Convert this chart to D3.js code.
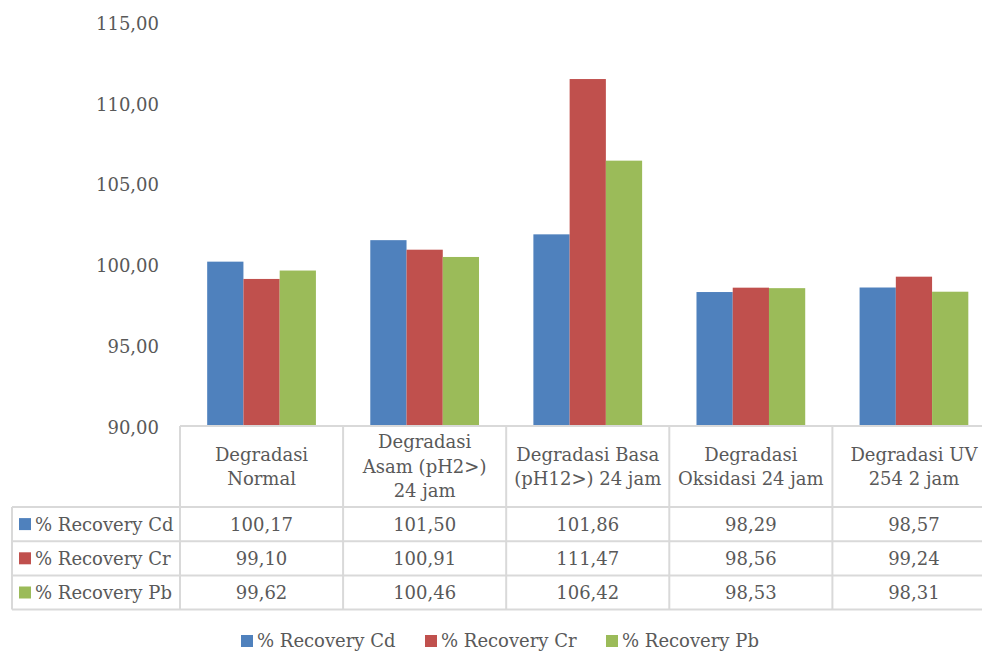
<!DOCTYPE html>
<html>
<head>
<meta charset="utf-8">
<script src="https://cdn.jsdelivr.net/npm/d3@7"></script>
<style>
  html, body { margin: 0; padding: 0; background: #fff; overflow: hidden; }
  svg { display: block; font-family: "DejaVu Serif", "Liberation Serif", serif; }
</style>
</head>
<body>
<svg id="chart" width="982" height="653"></svg>
<script>
// Categories (header lines of the data table)
const categories = [
  ["Degradasi", "Normal"],
  ["Degradasi", "Asam (pH2>)", "24 jam"],
  ["Degradasi Basa", "(pH12>) 24 jam"],
  ["Degradasi", "Oksidasi 24 jam"],
  ["Degradasi UV", "254 2 jam"]
];
const seriesNames = ["% Recovery Cd", "% Recovery Cr", "% Recovery Pb"];
const seriesColors = ["#4F81BD", "#C0504D", "#9BBB59"];
const recoveryCd = [100.17, 101.50, 101.86, 98.29, 98.57];
const recoveryCr = [99.10, 100.91, 111.47, 98.56, 99.24];
const recoveryPb = [99.62, 100.46, 106.42, 98.53, 98.31];
const yTicks = [90, 95, 100, 105, 110, 115];

const series = [recoveryCd, recoveryCr, recoveryPb];

const locale = d3.formatLocale({ decimal: ",", thousands: ".", grouping: [3], currency: ["", ""] });
const fmt = locale.format(".2f");

const svg = d3.select("#chart");
const textColor = "#595959";
const gridColor = "#d9d9d9";

// Layout
const plotLeft = 180, plotTop = 22, plotBottom = 426;
const colW = 163.1;
const tableLeft = 12;
const headerBottom = 507;
const rowH = 34.2;

const x = d3.scaleBand()
  .domain(d3.range(categories.length))
  .range([plotLeft, plotLeft + colW * categories.length])
  .paddingInner(0).paddingOuter(0);

// Excel-like gap width of 150%
const barW = x.bandwidth() / 4.5;
const xInner = d3.scaleBand()
  .domain(d3.range(series.length))
  .range([(x.bandwidth() - barW * 3) / 2, (x.bandwidth() + barW * 3) / 2]);

const y = d3.scaleLinear().domain([90, 115]).range([plotBottom, plotTop]);

// Y tick labels
const yAxis = d3.axisLeft(y).tickValues(yTicks).tickFormat(fmt).tickSize(0).tickPadding(0);
const gy = svg.append("g").attr("transform", `translate(159,0)`).call(yAxis);
gy.select(".domain").remove();
gy.selectAll("text")
  .attr("fill", textColor)
  .attr("font-size", 18)
  .attr("font-family", "DejaVu Serif, serif")
  .attr("dy", "0.4em");

// Bars
const groups = svg.append("g").selectAll("g")
  .data(categories.map((c, i) => i))
  .join("g")
  .attr("transform", i => `translate(${x(i)},0)`);

groups.selectAll("rect")
  .data(i => series.map((s, k) => ({ k, v: s[i] })))
  .join("rect")
  .attr("x", d => xInner(d.k))
  .attr("width", xInner.bandwidth())
  .attr("y", d => y(d.v))
  .attr("height", d => y(90) - y(d.v))
  .attr("fill", d => seriesColors[d.k]);

// Data table grid
const grid = svg.append("g").attr("stroke", gridColor).attr("stroke-width", 2).attr("fill", "none");
const tableRight = x.range()[1];
const tableBottom = headerBottom + rowH * series.length;

// top of header
grid.append("line").attr("x1", plotLeft).attr("x2", tableRight).attr("y1", plotBottom).attr("y2", plotBottom);
// horizontal row lines
for (let r = 0; r <= series.length; r++) {
  const yy = headerBottom + r * rowH;
  grid.append("line").attr("x1", tableLeft).attr("x2", tableRight).attr("y1", yy).attr("y2", yy);
}
// vertical lines for category columns
for (let i = 0; i <= categories.length; i++) {
  const xx = plotLeft + i * colW;
  grid.append("line").attr("x1", xx).attr("x2", xx).attr("y1", plotBottom).attr("y2", tableBottom);
}
// left edge of series label column
grid.append("line").attr("x1", tableLeft).attr("x2", tableLeft).attr("y1", headerBottom).attr("y2", tableBottom);

// Header text
const lineH = 24.5;
const headerMid = (plotBottom + headerBottom) / 2;
const header = svg.append("g").attr("fill", textColor).attr("font-size", 18).attr("text-anchor", "middle");
categories.forEach((lines, i) => {
  const cx = x(i) + x.bandwidth() / 2;
  const t = header.append("text").attr("x", cx);
  lines.forEach((ln, j) => {
    t.append("tspan")
      .attr("x", cx)
      .attr("y", headerMid + (j - (lines.length - 1) / 2) * lineH)
      .attr("dy", "0.36em")
      .text(ln);
  });
});

// Table rows: series label with key + values
const rows = svg.append("g").attr("fill", textColor).attr("font-size", 18);
series.forEach((s, k) => {
  const cy = headerBottom + k * rowH + rowH / 2;
  rows.append("rect").attr("x", 19).attr("y", cy - 6).attr("width", 12).attr("height", 12).attr("fill", seriesColors[k]);
  rows.append("text").attr("x", 35).attr("y", cy).attr("dy", "0.36em").text(seriesNames[k]);
  s.forEach((v, i) => {
    rows.append("text")
      .attr("x", x(i) + x.bandwidth() / 2)
      .attr("y", cy).attr("dy", "0.36em")
      .attr("text-anchor", "middle")
      .text(fmt(v));
  });
});

// Legend
const legendX = [241, 425, 606];
const legendY = 641;
const legend = svg.append("g").attr("fill", textColor).attr("font-size", 18);
seriesNames.forEach((name, k) => {
  legend.append("rect").attr("x", legendX[k]).attr("y", legendY - 6).attr("width", 12).attr("height", 12).attr("fill", seriesColors[k]);
  legend.append("text").attr("x", legendX[k] + 16).attr("y", legendY).attr("dy", "0.36em").text(name);
});
</script>
</body>
</html>
